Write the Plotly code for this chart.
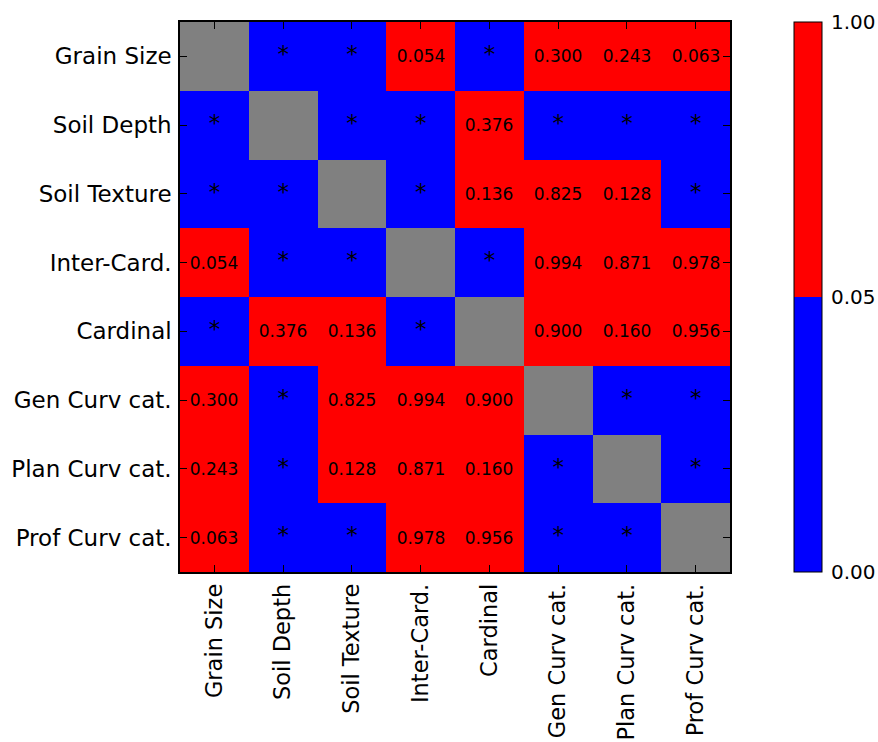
import numpy as np
import plotly.graph_objects as go

# Variables compared pairwise
labels = ["Grain Size", "Soil Depth", "Soil Texture", "Inter-Card.",
          "Cardinal", "Gen Curv cat.", "Plan Curv cat.", "Prof Curv cat."]

# Pairwise p-values; "*" marks a significant result (p < 0.05), None the diagonal
p_grain   = [None, "*", "*", 0.054, "*", 0.300, 0.243, 0.063]
p_depth   = ["*", None, "*", "*", 0.376, "*", "*", "*"]
p_texture = ["*", "*", None, "*", 0.136, 0.825, 0.128, "*"]
p_inter   = [0.054, "*", "*", None, "*", 0.994, 0.871, 0.978]
p_card    = ["*", 0.376, 0.136, "*", None, 0.900, 0.160, 0.956]
p_gen     = [0.300, "*", 0.825, 0.994, 0.900, None, "*", "*"]
p_plan    = [0.243, "*", 0.128, 0.871, 0.160, "*", None, "*"]
p_prof    = [0.063, "*", "*", 0.978, 0.956, "*", "*", None]

rows = [p_grain, p_depth, p_texture, p_inter, p_card, p_gen, p_plan, p_prof]

# Colour bar boundaries (two equal-height bins)
bounds = [0.0, 0.05, 1.0]
bound_labels = ["0.00", "0.05", "1.00"]
sig_value = 0.01  # any value inside the significant bin

def norm(v):
    return float(np.interp(v, bounds, np.linspace(0, 1, len(bounds))))

z, text = [], []
star_x, star_y = [], []
for yi, r in zip(labels, rows):
    zr, tr = [], []
    for xi, v in zip(labels, r):
        if v is None:
            zr.append(None); tr.append("")
        elif v == "*":
            zr.append(norm(sig_value)); tr.append("")
            star_x.append(xi); star_y.append(yi)
        else:
            zr.append(norm(v)); tr.append(f"{v:.3f}")
    z.append(zr); text.append(tr)

blue, red, grey = "#0000FF", "#FF0000", "#808080"
colorscale = [[0.0, blue], [0.5, blue], [0.5, red], [1.0, red]]

fig = go.Figure()
fig.add_trace(go.Heatmap(
    z=z, x=labels, y=labels, text=text, texttemplate="%{text}",
    textfont=dict(family="DejaVu Sans", size=17, color="black"),
    colorscale=colorscale, zmin=0, zmax=1, hoverongaps=False, xgap=0, ygap=0,
    colorbar=dict(
        tickvals=[norm(b) for b in bounds], ticktext=bound_labels,
        thickness=28, thicknessmode="pixels", len=550, lenmode="pixels",
        x=1.1164, xanchor="left", xpad=0, y=0.5, yanchor="middle", ypad=0,
        outlinewidth=1, outlinecolor="black",
        ticks="outside", ticklen=5, tickcolor="rgba(0,0,0,0)",
        tickfont=dict(family="DejaVu Sans", size=20, color="black"),
    ),
))

# Significance markers
fig.add_trace(go.Scatter(
    x=star_x, y=star_y, mode="text", text=["*"] * len(star_x),
    textposition="middle center",
    textfont=dict(family="DejaVu Sans", size=23, color="black"),
    hoverinfo="skip", showlegend=False,
))

axis_style = dict(
    showline=True, linecolor="black", linewidth=1.5, mirror="ticks",
    ticks="inside", ticklen=7, tickwidth=1, tickcolor="black",
    showgrid=False, zeroline=False,
)

n = len(labels)
fig.update_xaxes(**axis_style, tickangle=-90, range=[-0.5, n - 0.5],
                 ticklabelstandoff=1,
                 tickfont=dict(family="DejaVu Sans", size=22.5, color="black"))
fig.update_yaxes(**axis_style, range=[n - 0.5, -0.5], ticklabelstandoff=2,
                 tickfont=dict(family="DejaVu Sans", size=23, color="black"))

fig.update_layout(
    width=878, height=742,
    margin=dict(l=180, r=148, t=22, b=170, autoexpand=False),
    plot_bgcolor=grey, paper_bgcolor="white",
    font=dict(family="DejaVu Sans", color="black"),
)

fig.write_html("out.html")
